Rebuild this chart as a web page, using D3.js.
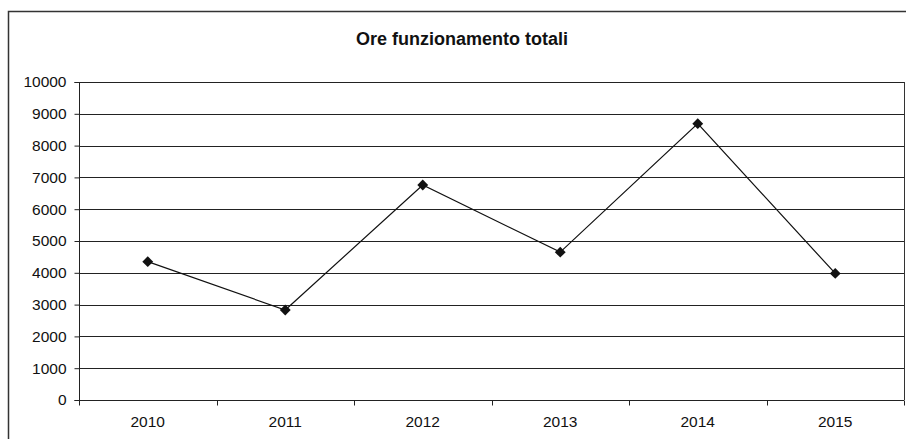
<!DOCTYPE html>
<html>
<head>
<meta charset="utf-8">
<script src="https://cdn.jsdelivr.net/npm/d3@7"></script>
<style>
  html, body { margin: 0; padding: 0; background: #fff; }
  svg { display: block; font-family: "Liberation Sans", Arial, sans-serif; }
</style>
</head>
<body>
<svg id="chart" width="906" height="439"></svg>
<script>
// Operating hours per year
const years = ["2010", "2011", "2012", "2013", "2014", "2015"];
const hours = [4350, 2830, 6760, 4650, 8690, 3980];
const yTicks = [0, 1000, 2000, 3000, 4000, 5000, 6000, 7000, 8000, 9000, 10000];
const title = "Ore funzionamento totali";

const svg = d3.select("#chart");
const W = 906, H = 439;
const plot = { left: 79, right: 904, top: 82, bottom: 400 };

// Outer chart frame
svg.append("rect")
  .attr("x", 8.5).attr("y", 11.5)
  .attr("width", W + 10).attr("height", H + 10)
  .attr("fill", "#fff").attr("stroke", "#333").attr("stroke-width", 1.5);

svg.append("text")
  .attr("x", 462).attr("y", 45)
  .attr("text-anchor", "middle")
  .attr("font-size", 18).attr("font-weight", "bold")
  .attr("fill", "#111")
  .text(title);

const x = d3.scaleBand().domain(years).range([plot.left, plot.right]);
const y = d3.scaleLinear().domain([0, 10000]).range([plot.bottom, plot.top]);

// Horizontal gridlines
svg.append("g")
  .selectAll("line")
  .data(yTicks)
  .join("line")
  .attr("x1", plot.left).attr("x2", plot.right)
  .attr("y1", d => Math.round(y(d)) + 0.5).attr("y2", d => Math.round(y(d)) + 0.5)
  .attr("stroke", "#222").attr("stroke-width", 1.2);

// Right edge of plot area
svg.append("line")
  .attr("x1", plot.right + 0.5).attr("x2", plot.right + 0.5)
  .attr("y1", plot.top).attr("y2", plot.bottom)
  .attr("stroke", "#333").attr("stroke-width", 1);

// Y axis
const yAxis = svg.append("g")
  .attr("transform", `translate(${plot.left + 0.5},0)`)
  .call(d3.axisLeft(y).tickValues(yTicks).tickSize(5).tickPadding(8).tickFormat(d3.format("d")));
yAxis.selectAll("text").attr("font-size", 15.5).attr("fill", "#111")
  .attr("font-family", "'Liberation Sans', Arial, sans-serif");
yAxis.selectAll("line, path").attr("stroke", "#222");
yAxis.select(".domain").attr("d", `M-5,${plot.top + 0.5}H0V${plot.bottom + 0.5}H-5`);

// X axis: ticks sit on the category boundaries
const xAxisG = svg.append("g")
  .attr("transform", `translate(0,${Math.round(y(0)) + 0.5})`);
xAxisG.append("line")
  .attr("x1", plot.left).attr("x2", plot.right)
  .attr("stroke", "#222");
xAxisG.selectAll("line.tick")
  .data(years.concat(["end"]))
  .join("line")
  .attr("class", "tick")
  .attr("x1", (d, i) => Math.round(plot.left + i * x.step()) + 0.5)
  .attr("x2", (d, i) => Math.round(plot.left + i * x.step()) + 0.5)
  .attr("y1", 0).attr("y2", 5)
  .attr("stroke", "#222");
xAxisG.selectAll("text")
  .data(years)
  .join("text")
  .attr("x", d => x(d) + x.bandwidth() / 2)
  .attr("y", 26)
  .attr("text-anchor", "middle")
  .attr("font-size", 15.5).attr("fill", "#111")
  .text(d => d);

// Series line and diamond markers
const pts = years.map((yr, i) => ({ yr, v: hours[i] }));
const cx = d => x(d.yr) + x.bandwidth() / 2;

svg.append("path")
  .datum(pts)
  .attr("fill", "none")
  .attr("stroke", "#111")
  .attr("stroke-width", 1.2)
  .attr("d", d3.line().x(cx).y(d => y(d.v)));

svg.append("g")
  .selectAll("path")
  .data(pts)
  .join("path")
  .attr("transform", d => `translate(${cx(d)},${y(d.v)})`)
  .attr("d", d3.symbol().type(d3.symbolDiamond2).size(75))
  .attr("fill", "#111");
</script>
</body>
</html>
